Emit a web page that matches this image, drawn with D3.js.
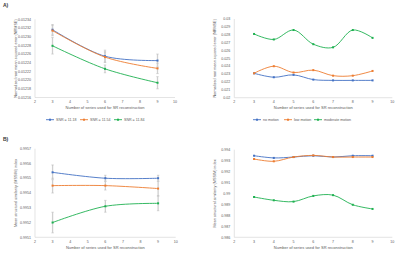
<!DOCTYPE html>
<html>
<head>
<meta charset="utf-8">
<script src="https://cdn.jsdelivr.net/npm/d3@7"></script>
<style>
  body { margin: 0; background: #fff; }
  svg { display: block; font-family: "Liberation Sans", Arial, sans-serif; }
</style>
</head>
<body>
<svg width="400" height="258"></svg>
<script>
var xTicks = [2, 3, 4, 5, 6, 7, 8, 9, 10];

// A) left: NRMSE vs series, by SNR
var snrSeries = ['SNR = 11.18', 'SNR = 11.54', 'SNR = 11.84'];
var snrX = [3, 6, 9];
var nrmseSnr = [
  [0.012316, 0.012255, 0.012245],
  [0.012314, 0.012253, 0.012227],
  [0.012279, 0.012226, 0.012194]
];
var nrmseSnrErr = [
  [0.000012, 0.000014, 0.000015],
  [0.000012, 0.000012, 0.000012],
  [0.000019, 0.000009, 0.000014]
];
var nrmseSnrTicks = [0.01216, 0.01218, 0.0122, 0.01222, 0.01224, 0.01226, 0.01228, 0.0123, 0.01232, 0.01234];

// A) right: NRMSE vs series, by motion
var motionSeries = ['no motion', 'low motion', 'moderate motion'];
var motionX = [3, 4, 5, 6, 7, 8, 9];
var nrmseMotion = [
  [0.0231, 0.0226, 0.0229, 0.0223, 0.0222, 0.0222, 0.0222],
  [0.0231, 0.0240, 0.0232, 0.0235, 0.0228, 0.0228, 0.0234],
  [0.0281, 0.0274, 0.0286, 0.0268, 0.0264, 0.0286, 0.0276]
];
var nrmseMotionTicks = [0.02, 0.021, 0.022, 0.023, 0.024, 0.025, 0.026, 0.027, 0.028, 0.029, 0.03];

// B) left: MSSIM vs series, by SNR
var mssimSnr = [
  [0.99554, 0.99550, 0.99550],
  [0.99545, 0.99545, 0.99543],
  [0.99520, 0.99531, 0.99533]
];
var mssimSnrErr = [
  [0.00005, 0.00002, 0.00002],
  [0.00005, 0.00003, 0.00005],
  [0.00007, 0.00004, 0.00005]
];
var mssimSnrTicks = [0.9951, 0.9952, 0.9953, 0.9954, 0.9955, 0.9956, 0.9957];

// B) right: MSSIM vs series, by motion
var mssimMotion = [
  [0.99345, 0.99325, 0.99333, 0.99345, 0.99333, 0.99345, 0.99345],
  [0.99315, 0.99294, 0.99333, 0.99348, 0.99333, 0.99333, 0.99333],
  [0.98968, 0.98938, 0.98926, 0.98978, 0.98985, 0.98897, 0.98859]
];
var mssimMotionTicks = [0.986, 0.987, 0.988, 0.989, 0.99, 0.991, 0.992, 0.993, 0.994];

var colors = ['#4472C4', '#ED7D31', '#1FB151'];
var textColor = '#595959';
var axisColor = '#d9d9d9';

var svg = d3.select('svg');

function drawPanel(p) {
  var g = svg.append('g');
  var x = d3.scaleLinear().domain([2, 10]).range([p.x0, p.x1]);
  var y = d3.scaleLinear().domain(d3.extent(p.yTicks)).range([p.y1, p.y0]);

  // axis lines
  g.append('line')
    .attr('x1', p.x0).attr('x2', p.x1).attr('y1', p.y1).attr('y2', p.y1)
    .attr('stroke', axisColor).attr('stroke-width', 0.7);
  g.append('line')
    .attr('x1', p.x0).attr('x2', p.x0).attr('y1', p.y0).attr('y2', p.y1)
    .attr('stroke', axisColor).attr('stroke-width', 0.7);

  // tick labels
  g.selectAll('.yt').data(p.yTicks).enter().append('text')
    .attr('x', p.x0 - 4).attr('y', function(d) { return y(d); })
    .attr('dy', '0.35em').attr('text-anchor', 'end')
    .attr('font-size', 3.6).attr('fill', textColor)
    .text(function(d) { return d3.format(p.fmt)(d); });
  g.selectAll('.xt').data(xTicks).enter().append('text')
    .attr('x', function(d) { return x(d); }).attr('y', p.y1 + 5.5)
    .attr('text-anchor', 'middle')
    .attr('font-size', 3.6).attr('fill', textColor)
    .text(function(d) { return d; });

  // axis titles
  g.append('text')
    .attr('x', (p.x0 + p.x1) / 2).attr('y', p.y1 + 11.5)
    .attr('text-anchor', 'middle').attr('font-size', 4).attr('fill', textColor)
    .text('Number of series used for SR reconstruction');
  g.append('text')
    .attr('transform', 'translate(' + (p.x0 - 18) + ',' + ((p.y0 + p.y1) / 2) + ') rotate(-90)')
    .attr('text-anchor', 'middle').attr('font-size', 3.8).attr('fill', textColor)
    .text(p.yTitle);

  // error bars
  if (p.err) {
    p.values.forEach(function(vals, si) {
      vals.forEach(function(v, i) {
        var e = p.err[si][i];
        var xx = x(p.xs[i]);
        g.append('line')
          .attr('x1', xx).attr('x2', xx).attr('y1', y(v - e)).attr('y2', y(v + e))
          .attr('stroke', '#cfcfcf').attr('stroke-width', 1.3);
        [v - e, v + e].forEach(function(c) {
          g.append('line')
            .attr('x1', xx - 1.2).attr('x2', xx + 1.2).attr('y1', y(c)).attr('y2', y(c))
            .attr('stroke', '#bdbdbd').attr('stroke-width', 0.6);
        });
      });
    });
  }

  var line = d3.line()
    .x(function(d, i) { return x(p.xs[i]); })
    .y(function(d) { return y(d); })
    .curve(d3.curveCatmullRom.alpha(0.5));

  p.values.forEach(function(vals, si) {
    g.append('path')
      .attr('d', line(vals))
      .attr('fill', 'none').attr('stroke', colors[si]).attr('stroke-width', 0.9);
    g.selectAll('.m' + si).data(vals).enter().append('rect')
      .attr('x', function(d, i) { return x(p.xs[i]) - 1; })
      .attr('y', function(d) { return y(d) - 1; })
      .attr('width', 2).attr('height', 2)
      .attr('fill', colors[si]);
  });

  // legend
  if (p.legend) {
    var lg = g.append('g');
    p.legend.forEach(function(name, si) {
      var lx = p.legendX[si];
      var ly = p.legendY;
      lg.append('line')
        .attr('x1', lx).attr('x2', lx + 8).attr('y1', ly).attr('y2', ly)
        .attr('stroke', colors[si]).attr('stroke-width', 0.9);
      lg.append('rect')
        .attr('x', lx + 3).attr('y', ly - 1).attr('width', 2).attr('height', 2)
        .attr('fill', colors[si]);
      lg.append('text')
        .attr('x', lx + 10).attr('y', ly).attr('dy', '0.35em')
        .attr('font-size', 3.6).attr('fill', textColor)
        .text(name);
    });
  }
}

drawPanel({
  x0: 35, x1: 175, y0: 19.3, y1: 97.5,
  xs: snrX, values: nrmseSnr, err: nrmseSnrErr,
  yTicks: nrmseSnrTicks, fmt: '.5f',
  yTitle: 'Normalized root mean squared error (NRMSE)',
  legend: snrSeries, legendX: [46, 80, 114], legendY: 119.7
});

drawPanel({
  x0: 234.3, x1: 392.3, y0: 19, y1: 97.7,
  xs: motionX, values: nrmseMotion,
  yTicks: nrmseMotionTicks, fmt: '',
  yTitle: 'Normalized root mean squared error (NRMSE)',
  legend: motionSeries, legendX: [253, 284, 314], legendY: 119.7
});

drawPanel({
  x0: 35, x1: 175.7, y0: 148.7, y1: 237.3,
  xs: snrX, values: mssimSnr, err: mssimSnrErr,
  yTicks: mssimSnrTicks, fmt: '.4f',
  yTitle: 'Mean structural similarity (MSSIM) index'
});

drawPanel({
  x0: 234.3, x1: 392.3, y0: 149.7, y1: 237.3,
  xs: motionX, values: mssimMotion,
  yTicks: mssimMotionTicks, fmt: '',
  yTitle: 'Mean structural similarity (MSSIM) index'
});

svg.append('text').attr('x', 3).attr('y', 7).attr('font-size', 5)
  .attr('font-weight', 'bold').attr('fill', '#333').text('A)');
svg.append('text').attr('x', 3).attr('y', 141).attr('font-size', 5)
  .attr('font-weight', 'bold').attr('fill', '#333').text('B)');
</script>
</body>
</html>
